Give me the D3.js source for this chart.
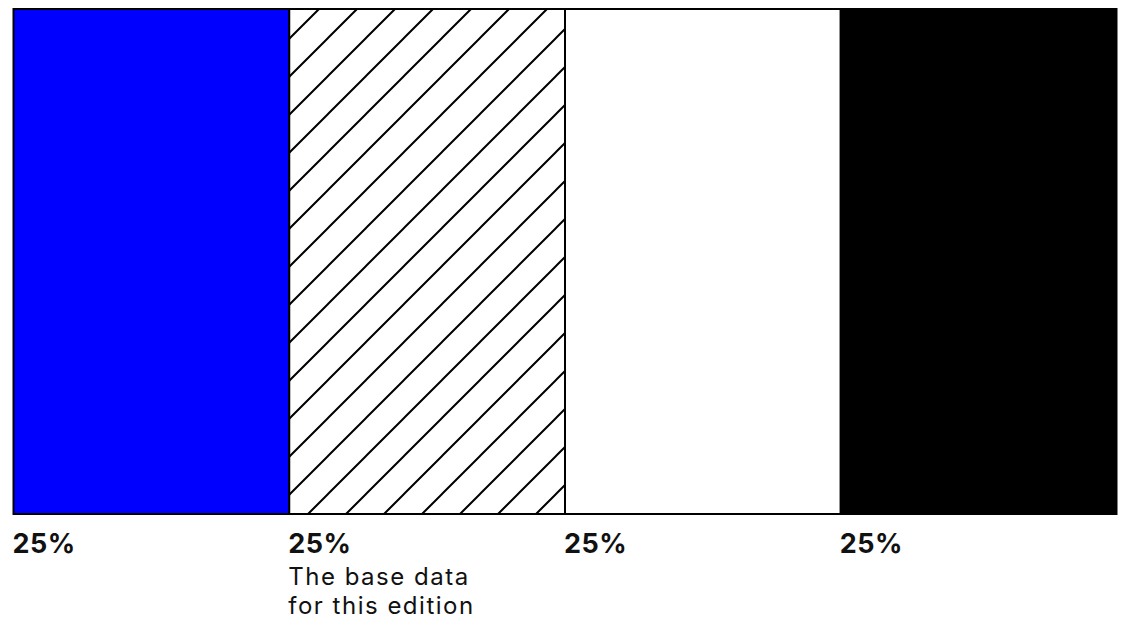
<!DOCTYPE html>
<html>
<head>
<meta charset="utf-8">
<script src="https://cdn.jsdelivr.net/npm/d3@7"></script>
<style>
  html, body { margin: 0; padding: 0; background: #fff; }
  svg { display: block; }
</style>
</head>
<body>
<div id="chart"></div>
<script>
// Share breakdown: four equal parts, shown as one full-width stacked bar
const categories = ["blue", "hatched", "white", "black"];
const shares = [25, 25, 25, 25];
const valueLabels = ["25%", "25%", "25%", "25%"];
const notes = [[], ["The base data", "for this edition"], [], []];

const width = 1128, height = 626;
const margin = { top: 9, right: 11.5, bottom: 112, left: 13.5 };

const svg = d3.select("#chart").append("svg")
  .attr("width", width)
  .attr("height", height);

// diagonal hatch fill
const defs = svg.append("defs");
const hatch = defs.append("pattern")
  .attr("id", "hatch")
  .attr("patternUnits", "userSpaceOnUse")
  .attr("x", 24)
  .attr("y", 0)
  .attr("width", 38)
  .attr("height", 38);
hatch.append("rect").attr("width", 38).attr("height", 38).attr("fill", "#fff");
hatch.append("path")
  .attr("d", "M-9.5,9.5L9.5,-9.5M0,38L38,0M28.5,47.5L47.5,28.5")
  .attr("stroke", "#000")
  .attr("stroke-width", 2)
  .attr("fill", "none");

const fills = {
  blue: "#0000ff",
  hatched: "url(#hatch)",
  white: "#ffffff",
  black: "#000000"
};

// cumulative positions along the bar
const rows = [Object.fromEntries(categories.map((c, i) => [c, shares[i]]))];
const series = d3.stack().keys(categories)(rows);

const x = d3.scaleLinear()
  .domain([0, d3.sum(shares)])
  .range([margin.left, width - margin.right]);

const y = d3.scaleBand()
  .domain(["all"])
  .range([margin.top, height - margin.bottom])
  .padding(0);

const g = svg.append("g");

g.selectAll("rect.seg")
  .data(series)
  .join("rect")
  .attr("class", "seg")
  .attr("x", d => x(d[0][0]))
  .attr("y", y("all"))
  .attr("width", d => x(d[0][1]) - x(d[0][0]))
  .attr("height", y.bandwidth())
  .attr("fill", d => fills[d.key])
  .attr("stroke", "#000")
  .attr("stroke-width", 2);

const labelTop = y("all") + y.bandwidth();

const labels = svg.append("g")
  .selectAll("g")
  .data(series)
  .join("g")
  .attr("transform", d => `translate(${x(d[0][0]) - 1},${labelTop})`);

labels.append("text")
  .attr("y", 39)
  .attr("font-family", "Inter, 'Open Sans', sans-serif")
  .attr("font-weight", 700)
  .attr("font-size", 27)
  .attr("letter-spacing", 0.5)
  .attr("fill", "#111")
  .text((d, i) => valueLabels[i]);

labels.each(function(d, i) {
  d3.select(this).selectAll("text.note")
    .data(notes[i])
    .join("text")
    .attr("class", "note")
    .attr("y", (t, j) => 71 + j * 29)
    .attr("font-family", "Inter, 'Open Sans', sans-serif")
    .attr("font-weight", 400)
    .attr("font-size", 24)
    .attr("letter-spacing", 1.5)
    .attr("fill", "#111")
    .text(t => t);
});
</script>
</body>
</html>
